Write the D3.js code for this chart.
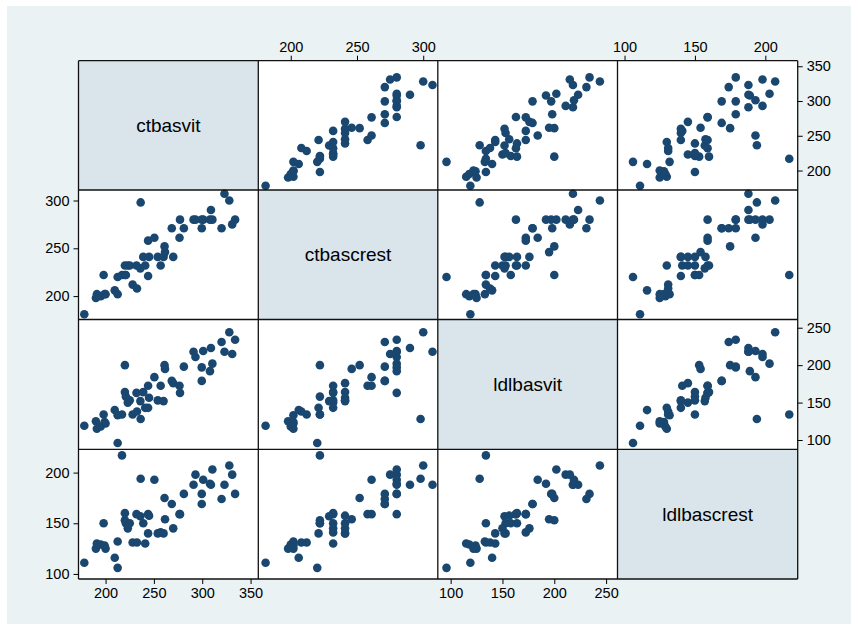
<!DOCTYPE html>
<html>
<head>
<meta charset="utf-8">
<script src="https://cdn.jsdelivr.net/npm/d3@7"></script>
<style>
  html, body { margin: 0; padding: 0; background: #ffffff; }
  svg { display: block; }
  text { font-family: "Liberation Sans", Arial, Helvetica, sans-serif; fill: #000; }
</style>
</head>
<body>
<script>
// Variables shown on the diagonal of the matrix
const varNames = ["ctbasvit", "ctbascrest", "ldlbasvit", "ldlbascrest"];

// One value per subject for each variable
const ctbasvit    = [178,190,191,195,198,199,200,209.5,212.5,212.5,217,220,220,221,223,225,
                     228,232.5,232,236.3,236,239,241,244,244,245,
                     250.5,254,257,260,261,261.5,268.5,270,276.5,277,281,
                     291,293,299.5,299.5,301,308,309,310.5,320,323,328,331,334];
const ctbascrest  = [181,198,202,200,222,202,202,206,220,202,222,222,232,222,232,232,
                     212,208,232,298,229,241,232,258,221,241,
                     261,241,232,241,252,246,271,241,261,280,271,
                     280,280,280,271,280,280,290,280,271,307,300,275,280];
const ldlbasvit   = [119,125,115,118,134,124,122,140,96,133,134,200,164,158,150,153,
                     134,138,163,128,152,164,143,172.5,143,156.5,
                     184,153,172.5,152,200,195,179,176,172.5,163,198,
                     218,211,197,179,219,192,223,202,231,218,244,215,234];
const ldlbascrest = [111,125,130,129,150,128,125,116,106,132,217,153,160,150,145,150,
                     131,131,159,194,157,150,130,159,140,157.5,
                     193,140,141,140,175,154,169,145,159,159,179,
                     188,198,179,169,193,189,188,203,174,188,207,198,179];

const columns = [ctbasvit, ctbascrest, ldlbasvit, ldlbascrest];

// Plotted range of each variable
const domains = [[172, 358], [175.5, 311], [87.6, 261], [95, 223]];

// Tick labels of each variable
const ticks1 = [200, 250, 300, 350];
const ticks2 = [200, 250, 300];
const ticks3 = [100, 150, 200, 250];
const ticks4 = [100, 150, 200];
const tickSets = [ticks1, ticks2, ticks3, ticks4];

const W = 858, H = 630;
const gridX = [78.5, 258.3, 437.8, 617.5, 797.7];
const gridY = [60.7, 190, 319.5, 449.3, 579];
const n = varNames.length;

const svg = d3.select("body").append("svg").attr("width", W).attr("height", H);

// Outer graph region
svg.append("rect").attr("x", 7).attr("y", 6).attr("width", 844).attr("height", 618)
   .attr("fill", "#eaf2f3");

const xScales = d3.range(n).map(j => d3.scaleLinear().domain(domains[j]).range([gridX[j], gridX[j + 1]]));
const yScales = d3.range(n).map(i => d3.scaleLinear().domain(domains[i]).range([gridY[i + 1], gridY[i]]));

const rows = d3.range(ctbasvit.length).map(k => columns.map(c => c[k]));

// Cells
for (let i = 0; i < n; i++) {
  for (let j = 0; j < n; j++) {
    const g = svg.append("g");
    g.append("rect")
      .attr("x", gridX[j]).attr("y", gridY[i])
      .attr("width", gridX[j + 1] - gridX[j]).attr("height", gridY[i + 1] - gridY[i])
      .attr("fill", i === j ? "#d9e5ea" : "#ffffff");
    if (i === j) {
      g.append("text")
        .attr("x", (gridX[j] + gridX[j + 1]) / 2)
        .attr("y", (gridY[i] + gridY[i + 1]) / 2)
        .attr("text-anchor", "middle").attr("dominant-baseline", "central")
        .attr("font-size", 19)
        .text(varNames[i]);
    } else {
      g.selectAll("circle").data(rows).join("circle")
        .attr("cx", d => xScales[j](d[j]))
        .attr("cy", d => yScales[i](d[i]))
        .attr("r", 4.3)
        .attr("fill", "#1a476f");
    }
  }
}

// Cell borders
const borders = svg.append("g").attr("stroke", "#111").attr("stroke-width", 1.3).attr("fill", "none");
gridX.forEach(x => borders.append("line").attr("x1", x).attr("x2", x).attr("y1", gridY[0]).attr("y2", gridY[n]));
gridY.forEach(y => borders.append("line").attr("y1", y).attr("y2", y).attr("x1", gridX[0]).attr("x2", gridX[n]));

// Axes alternate sides: bottom/top for columns, right/left for rows
function styleAxis(g) {
  g.select(".domain").remove();
  g.selectAll(".tick line").attr("stroke", "#000").attr("stroke-width", 1);
  g.selectAll(".tick text").attr("font-size", 14.5)
    .attr("font-family", "'Liberation Sans', Arial, sans-serif");
}
for (let j = 0; j < n; j++) {
  const axis = (j % 2 === 0 ? d3.axisBottom(xScales[j]) : d3.axisTop(xScales[j]))
    .tickValues(tickSets[j]).tickSize(5).tickPadding(4);
  svg.append("g")
    .attr("transform", `translate(0,${j % 2 === 0 ? gridY[n] : gridY[0]})`)
    .call(axis).call(styleAxis);
}
for (let i = 0; i < n; i++) {
  const axis = (i % 2 === 0 ? d3.axisRight(yScales[i]) : d3.axisLeft(yScales[i]))
    .tickValues(tickSets[i]).tickSize(5).tickPadding(4);
  svg.append("g")
    .attr("transform", `translate(${i % 2 === 0 ? gridX[n] : gridX[0]},0)`)
    .call(axis).call(styleAxis);
}
</script>
</body>
</html>
